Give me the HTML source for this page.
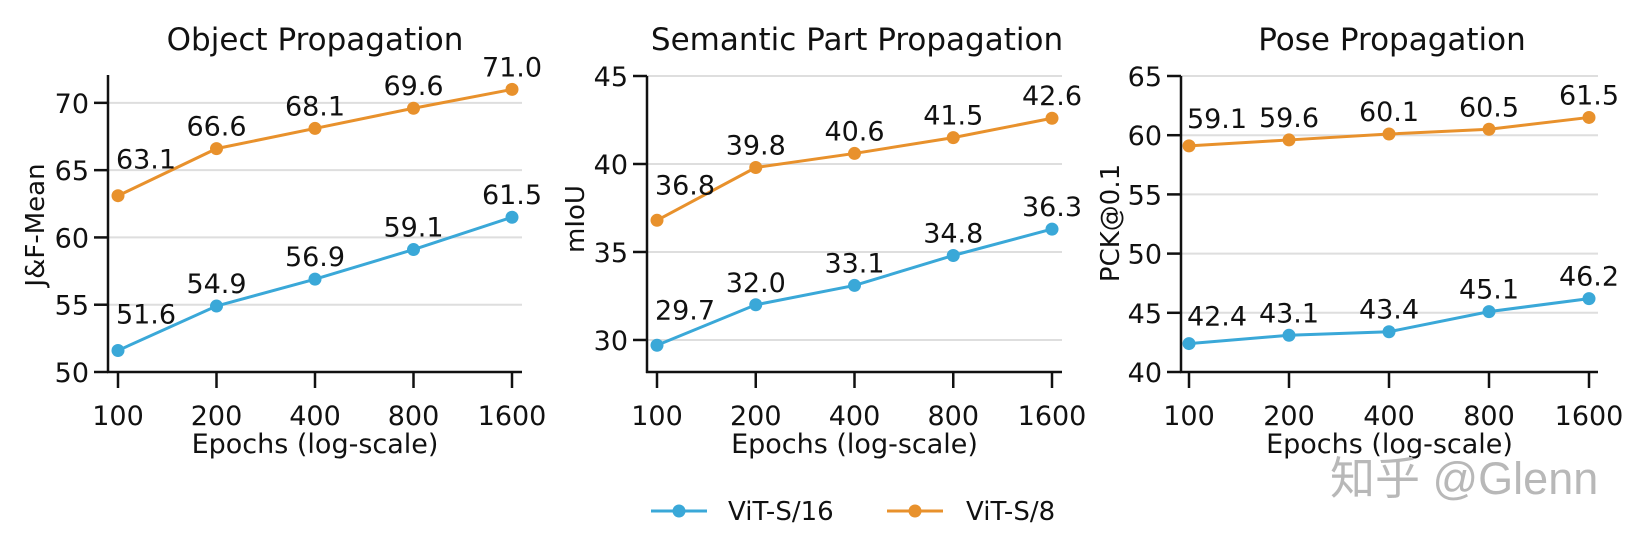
<!DOCTYPE html>
<html><head><meta charset="utf-8"><style>
html,body{margin:0;padding:0;background:#fff;}
svg{display:block;font-family:"DejaVu Sans","Liberation Sans","Noto Sans CJK SC",sans-serif;}
</style></head><body>
<svg id="chart" width="1636" height="542" viewBox="0 0 1636 542" xmlns="http://www.w3.org/2000/svg"></svg>
<script>
const categories = [100, 200, 400, 800, 1600];
const objS16 = [51.6, 54.9, 56.9, 59.1, 61.5];
const objS8 = [63.1, 66.6, 68.1, 69.6, 71.0];
const partS16 = [29.7, 32.0, 33.1, 34.8, 36.3];
const partS8 = [36.8, 39.8, 40.6, 41.5, 42.6];
const poseS16 = [42.4, 43.1, 43.4, 45.1, 46.2];
const poseS8 = [59.1, 59.6, 60.1, 60.5, 61.5];
const objTicks = [50, 55, 60, 65, 70];
const partTicks = [30, 35, 40, 45];
const poseTicks = [40, 45, 50, 55, 60, 65];
const seriesNames = ["ViT-S/16", "ViT-S/8"];

const BLUE = "#3aa8d8", ORANGE = "#e8912c";
const svg = document.getElementById('chart');
const NS = "http://www.w3.org/2000/svg";
function mk(tag, attrs, parent) {
  const e = document.createElementNS(NS, tag);
  for (const k in attrs) e.setAttribute(k, attrs[k]);
  (parent || svg).appendChild(e);
  return e;
}
function txt(s, attrs, parent) { const e = mk('text', attrs, parent); e.textContent = s; return e; }

const panels = [
  {key:'object', title:'Object Propagation', ylabel:'J&F-Mean', s16:objS16, s8:objS8, ticks:objTicks,
   sx:108, sr:522, x0:118, x1:512, ymin:50, ymax:72.07, yb:372, yt:75, ylx:35, yly:225, tx:315, firstDy:-27},
  {key:'part', title:'Semantic Part Propagation', ylabel:'mIoU', s16:partS16, s8:partS8, ticks:partTicks,
   sx:647, sr:1062, x0:657, x1:1052, ymin:28.18, ymax:45, yb:372, yt:76, ylx:575, yly:219, tx:857, firstDy:-26},
  {key:'pose', title:'Pose Propagation', ylabel:'PCK@0.1', s16:poseS16, s8:poseS8, ticks:poseTicks,
   sx:1181, sr:1598, x0:1189, x1:1589, ymin:40, ymax:65, yb:372, yt:76, ylx:1110, yly:223, tx:1392, firstDy:-18}
];

panels.forEach(p => {
  const g = mk('g', {});
  
  
  const n = categories.length;
  const lmin = Math.log2(categories[0]), lmax = Math.log2(categories[n-1]);
  const X = v => p.x0 + (Math.log2(v) - lmin) / (lmax - lmin) * (p.x1 - p.x0);
  const Y = v => p.yb - (v - p.ymin) / (p.ymax - p.ymin) * (p.yb - p.yt);

  p.ticks.forEach(t => {
    const gl = mk('line', {x1:p.sx, x2:p.sr, y1:Y(t), y2:Y(t), stroke:'#dedede', 'stroke-width':2}, g);
    
    
  });
  const ys = mk('line', {x1:p.sx, x2:p.sx, y1:p.yt, y2:p.yb+1, stroke:'#111', 'stroke-width':2.5}, g);
  
  
  const xs = mk('line', {x1:p.sx-1, x2:p.sr, y1:p.yb, y2:p.yb, stroke:'#111', 'stroke-width':2.5}, g);
  
  
  p.ticks.forEach(t => {
    mk('line', {x1:p.sx-14, x2:p.sx, y1:Y(t), y2:Y(t), stroke:'#111', 'stroke-width':2.5}, g);
    const tl = txt(String(t), {x:p.sx-19, y:Y(t)+10, 'text-anchor':'end', 'font-size':27, fill:'#111'}, g);
    
    
  });
  categories.forEach(c => {
    mk('line', {x1:X(c), x2:X(c), y1:p.yb, y2:p.yb+16, stroke:'#111', 'stroke-width':2.5}, g);
    const tl = txt(String(c), {x:X(c), y:425, 'text-anchor':'middle', 'font-size':27, fill:'#111'}, g);
    
    
  });
  const t = txt(p.title, {x:p.tx, y:50, 'text-anchor':'middle', 'font-size':31, fill:'#111'}, g);
  
  
  const xl = txt('Epochs (log-scale)', {x:(p.sx+p.sr)/2, y:453, 'text-anchor':'middle', 'font-size':27, fill:'#111'}, g);
  
  
  const yl = txt(p.ylabel, {x:0, y:0, 'text-anchor':'middle', 'font-size':26, fill:'#111',
    transform:`translate(${p.ylx+9},${p.yly}) rotate(-90)`}, g);
  
  

  [[p.s16, BLUE, 'vit-s16'], [p.s8, ORANGE, 'vit-s8']].forEach(([vals, col, nm]) => {
    const pts = vals.map((v,i) => X(categories[i]) + ',' + Y(v)).join(' ');
    const pl = mk('polyline', {points:pts, fill:'none', stroke:col, 'stroke-width':3}, g);
    
    
    vals.forEach((v,i) => {
      const c = mk('circle', {cx:X(categories[i]), cy:Y(v), r:6.5, fill:col}, g);
      
      
      const first = i === 0;
      const lb = txt(v.toFixed(1), {x:X(categories[i]) + (first ? 28 : 0), y:Y(v) + (first ? p.firstDy : -13),
        'text-anchor':'middle', 'font-size':27, fill:'#111'}, g);
      
      
    });
  });
});

const lg = mk('g', {});


[[651, BLUE, 728], [887, ORANGE, 966]].forEach(([lx, col, tx], i) => {
  const e = mk('g', {}, lg);
  
  
  mk('line', {x1:lx, x2:lx+56, y1:511, y2:511, stroke:col, 'stroke-width':3}, e);
  mk('circle', {cx:lx+28, cy:511, r:6.5, fill:col}, e);
  txt(seriesNames[i], {x:tx, y:520, 'font-size':26, fill:'#111'}, e);
});

const wm = txt('知乎 @Glenn', {x:1330, y:494, 'font-size':45, fill:'#b8b8b8',
  'font-family':'"Liberation Sans","Noto Sans CJK SC",sans-serif'});


</script>
</body></html>
